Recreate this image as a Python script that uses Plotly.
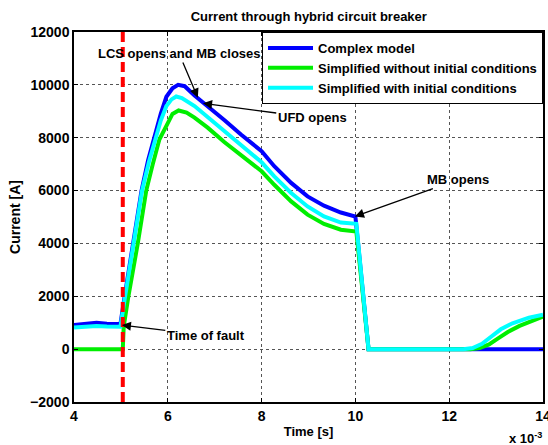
import plotly.graph_objects as go

# ---- data (time in ms, i.e. x 10^-3 s; current in A) ----
t_complex = [4.0, 4.25, 4.48, 4.7, 4.85, 4.99, 5.08, 5.27, 5.44, 5.58, 5.72, 5.85, 5.97,
             6.1, 6.22, 6.36, 6.57, 6.85, 7.21, 7.56, 8.0, 8.27, 8.63, 8.98, 9.33, 9.69,
             10.0, 10.28, 12.0, 14.0]
i_complex = [910, 960, 1000, 960, 945, 950, 2000, 4000, 6000, 7150, 8100, 8900, 9550,
             9870, 10000, 9950, 9600, 9200, 8660, 8120, 7490, 6920, 6290, 5780, 5430, 5170,
             5020, 0, 0, 0]

t_simple_noic = [4.0, 5.04, 5.06, 5.16, 5.36, 5.54, 5.68, 5.82, 5.97, 6.1, 6.23, 6.4, 6.57,
                 6.85, 7.21, 7.56, 8.0, 8.27, 8.63, 8.98, 9.33, 9.69, 9.85, 10.02, 10.28,
                 12.45, 12.65, 12.85, 13.05, 13.25, 13.5, 13.75, 14.0]
i_simple_noic = [0, 0, 850, 2000, 4000, 6000, 7000, 7930, 8450, 8900, 9030, 8950, 8760,
                 8380, 7830, 7360, 6730, 6220, 5590, 5090, 4740, 4520, 4470, 4450, 0,
                 0, 40, 180, 420, 650, 880, 1060, 1230]

t_simple_ic = [4.0, 4.25, 4.48, 4.7, 4.99, 5.09, 5.28, 5.45, 5.6, 5.72, 5.85, 5.97, 6.08,
               6.18, 6.3, 6.57, 6.85, 7.21, 7.56, 8.0, 8.27, 8.63, 8.98, 9.33, 9.69, 9.85,
               10.02, 10.28, 12.3, 12.5, 12.7, 12.9, 13.1, 13.35, 13.7, 14.0]
i_simple_ic = [820, 850, 880, 860, 850, 2000, 4000, 6000, 7100, 7800, 8650, 9200, 9450,
               9560, 9500, 9200, 8790, 8250, 7740, 7070, 6540, 5910, 5400, 5020, 4790, 4760,
               4740, 0, 0, 40, 200, 480, 750, 980, 1190, 1300]

fault_time = 5.04
y_range = [-2000, 12000]
x_range = [4, 14]
x_ticks = [4, 6, 8, 10, 12, 14]
y_ticks = [-2000, 0, 2000, 4000, 6000, 8000, 10000, 12000]

names = ["Complex model", "Simplified without initial conditions", "Simplified with initial conditions"]
colors = ["#0000FF", "#00EE00", "#00FFFF"]

FONT = "Liberation Sans, Arial, Helvetica, sans-serif"

fig = go.Figure()
for tx, iy, nm, c in zip([t_complex, t_simple_noic, t_simple_ic],
                         [i_complex, i_simple_noic, i_simple_ic], names, colors):
    fig.add_trace(go.Scatter(x=tx, y=iy, mode="lines", name=nm,
                             line=dict(color=c, width=4)))

fig.add_trace(go.Scatter(x=[fault_time, fault_time], y=y_range, mode="lines",
                         showlegend=False,
                         line=dict(color="#FF0000", width=4, dash="10px,5px")))

axis_common = dict(showline=True, linecolor="black", linewidth=1.5, mirror="ticks",
                   ticks="inside", ticklen=4, tickcolor="black",
                   showgrid=True, gridcolor="#555555", griddash="dot", gridwidth=1,
                   zeroline=False, ticklabeloverflow="allow", automargin=False,
                   tickfont=dict(family=FONT, size=14, color="black", weight="bold"))

fig.update_layout(
    width=548, height=445,
    margin=dict(l=74, r=5, t=32, b=43, autoexpand=False),
    paper_bgcolor="white", plot_bgcolor="white",
    title=dict(text="Current through hybrid circuit breaker", x=0.5635, xanchor="center",
               y=0.963, yanchor="middle",
               font=dict(family=FONT, size=13, color="black", weight="bold")),
    xaxis=dict(range=x_range, tickvals=x_ticks, tickformat="d", **axis_common,
               title=dict(text="Time [s]", standoff=4,
                          font=dict(family=FONT, size=13, color="black", weight="bold"))),
    yaxis=dict(range=y_range, tickvals=y_ticks, tickformat="d", **axis_common,
               title=dict(text="Current [A]", standoff=6,
                          font=dict(family=FONT, size=14, color="black", weight="bold"))),
    legend=dict(x=1, xanchor="right", y=1, yanchor="top",
                bgcolor="white", bordercolor="black", borderwidth=1,
                font=dict(family=FONT, size=13, color="black", weight="bold"),
                itemwidth=45),
    showlegend=True,
)

ann_font = dict(family=FONT, size=13, color="black", weight="bold")
notes = [
    ("LCS opens and MB closes", 6.64, 9514, 6.24, 11184),
    ("UFD opens", 6.75, 9300, 9.08, 8755),
    ("MB opens", 9.99, 5020, 12.19, 6414),
    ("Time of fault", 5.02, 910, 6.81, 531),
]
for txt, hx, hy, tx, ty in notes:
    fig.add_annotation(x=hx, y=hy, ax=tx, ay=ty, xref="x", yref="y", axref="x", ayref="y",
                       text=txt, showarrow=True, arrowhead=2, arrowsize=1.4,
                       arrowwidth=1.3, arrowcolor="black", font=ann_font)

fig.add_annotation(x=0.962, y=-0.097, xref="paper", yref="paper", showarrow=False,
                   text="x 10<sup>-3</sup>", xanchor="center", yanchor="middle",
                   font=dict(family=FONT, size=13, color="black", weight="bold"))

fig.write_html("out.html")
